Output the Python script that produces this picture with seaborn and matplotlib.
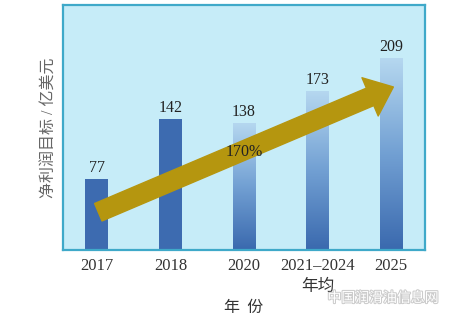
import numpy as np
import pandas as pd
import matplotlib
matplotlib.use("Agg")
import matplotlib.pyplot as plt
import matplotlib.patheffects as pe
from matplotlib.colors import LinearSegmentedColormap
import seaborn as sns

categories = ["2017", "2018", "2020", "2021–2024\n年均", "2025"]
values = [77, 142, 138, 173, 209]
gradient_flags = [False, False, True, True, True]
growth_label = "170%"
ylabel = "净利润目标 / 亿美元"
xlabel = "年  份"

sns.set_theme(style="white")
plt.rcParams["font.family"] = ["Liberation Serif", "Noto Sans CJK SC", "DejaVu Sans"]

fig = plt.figure(figsize=(4.67, 3.22), dpi=100)
ax = fig.add_axes([63/467, 1-250/322, (425-63)/467, (250-5)/322])
ax.set_facecolor("#c6ecf8")

df = pd.DataFrame({"cat": categories, "val": values})
sns.barplot(data=df, x="cat", y="val", ax=ax, width=0.31, color="#3d6bb0",
            saturation=1, edgecolor="none")

cmap = LinearSegmentedColormap.from_list("g", ["#3a69ae", "#72a0d3", "#b6d8f0"])
grad = np.linspace(0, 1, 256).reshape(-1, 1)
for patch, flag in zip(ax.patches, gradient_flags):
    if flag:
        x0, y0 = patch.get_x(), patch.get_y()
        w, h = patch.get_width(), patch.get_height()
        patch.set_facecolor("none")
        im = ax.imshow(grad, cmap=cmap, origin="lower", aspect="auto",
                       extent=[x0, x0 + w, y0, y0 + h], zorder=patch.get_zorder())
        im.set_clip_path(patch)

for i, v in enumerate(values):
    ax.text(i, v + 3, str(v), ha="center", va="bottom", fontsize=11.5,
            color="#222222", family="Liberation Serif")

ax.annotate("", xy=(4.03, 177), xytext=(0.02, 41),
            arrowprops=dict(arrowstyle="simple,head_length=1.4,head_width=2.3,tail_width=1.05",
                            mutation_scale=13, color="#b5960f", shrinkA=0, shrinkB=0),
            zorder=5)
ax.text(2.0, 106, growth_label, ha="center", va="center", fontsize=11.5,
        color="#222222", zorder=6, family="Liberation Serif")

ax.set_xlim(-0.46, 4.46)
ax.set_ylim(0, 266)
ax.set_yticks([])
ax.set_xlabel(xlabel, fontsize=11.5, color="#333333", family=["Noto Sans CJK SC"], labelpad=3)
ax.set_ylabel(ylabel, fontsize=11.5, color="#666666", family=["Liberation Serif", "Noto Sans CJK SC"], labelpad=4)
ax.tick_params(axis="x", length=0, pad=6, labelsize=12, colors="#333333")
for lab in ax.get_xticklabels():
    lab.set_family(["Liberation Serif", "Noto Sans CJK SC"])
    lab.set_verticalalignment("top")
    lab.set_linespacing(1.35)
for s in ax.spines.values():
    s.set_color("#3fa9c9")
    s.set_linewidth(1.6)

fig.text(383/467, 1-298/322, "中国润滑油信息网", ha="center", va="center", fontsize=10,
         color="white", family=["Noto Sans CJK SC"],
         path_effects=[pe.withStroke(linewidth=1.5, foreground="#cccccc")])

fig.savefig("out.png", dpi=100)
